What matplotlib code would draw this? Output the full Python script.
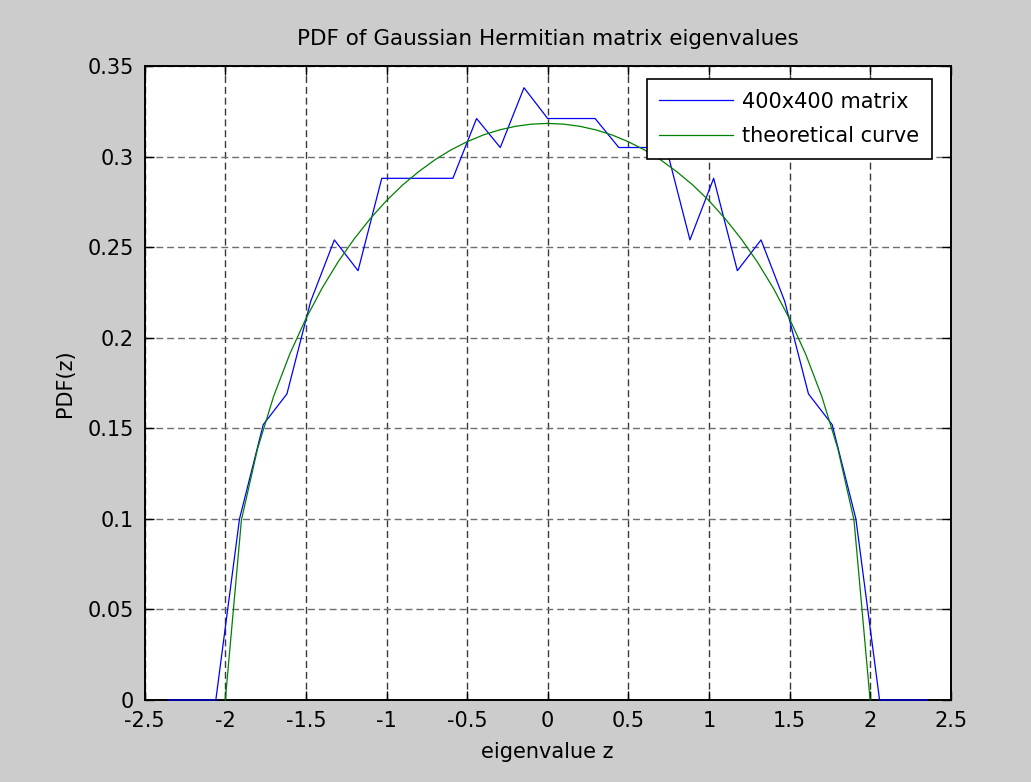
import matplotlib
matplotlib.use("Agg")
import matplotlib.pyplot as plt

# ---- data ----
bin_centers = [-2.3529, -2.2059, -2.0588, -1.9118, -1.7647, -1.6176, -1.4706,
               -1.3235, -1.1765, -1.0294, -0.8824, -0.7353, -0.5882, -0.4412,
               -0.2941, -0.1471, 0.0, 0.1471, 0.2941, 0.4412, 0.5882, 0.7353,
               0.8824, 1.0294, 1.1765, 1.3235, 1.4706, 1.6176, 1.7647, 1.9118,
               2.0588, 2.2059, 2.3529]
pdf_empirical = [0.0, 0.0, 0.0, 0.100, 0.152, 0.169, 0.220, 0.254, 0.237,
                 0.288, 0.288, 0.288, 0.288, 0.321, 0.305, 0.338, 0.321,
                 0.321, 0.321, 0.305, 0.305, 0.305, 0.254, 0.288, 0.237,
                 0.254, 0.220, 0.169, 0.152, 0.100, 0.0, 0.0, 0.0]

theory_x = [-2.0, -1.9, -1.8, -1.7, -1.6, -1.5, -1.4, -1.3, -1.2, -1.1, -1.0,
            -0.9, -0.8, -0.7, -0.6, -0.5, -0.4, -0.3, -0.2, -0.1, 0.0,
            0.1, 0.2, 0.3, 0.4, 0.5, 0.6, 0.7, 0.8, 0.9, 1.0,
            1.1, 1.2, 1.3, 1.4, 1.5, 1.6, 1.7, 1.8, 1.9, 2.0]
theory_y = [0.0, 0.0994, 0.1387, 0.1677, 0.1910, 0.2105, 0.2273, 0.2419,
            0.2546, 0.2658, 0.2757, 0.2843, 0.2917, 0.2982, 0.3037, 0.3082,
            0.3119, 0.3147, 0.3167, 0.3179, 0.3183,
            0.3179, 0.3167, 0.3147, 0.3119, 0.3082, 0.3037, 0.2982, 0.2917,
            0.2843, 0.2757, 0.2658, 0.2546, 0.2419, 0.2273, 0.2105, 0.1910,
            0.1677, 0.1387, 0.0994, 0.0]

x_ticks = [-2.5, -2, -1.5, -1, -0.5, 0, 0.5, 1, 1.5, 2, 2.5]
x_tick_labels = ["-2.5", "-2", "-1.5", "-1", "-0.5", "0", "0.5", "1", "1.5", "2", "2.5"]
y_ticks = [0, 0.05, 0.1, 0.15, 0.2, 0.25, 0.3, 0.35]
y_tick_labels = ["0", "0.05", "0.1", "0.15", "0.2", "0.25", "0.3", "0.35"]
series_labels = ["400x400 matrix", "theoretical curve"]

plt.rcParams["font.family"] = ["DejaVu Sans"]
plt.rcParams["axes.unicode_minus"] = False
FS = 15

W, H = 1031, 782
fig = plt.figure(figsize=(W / 100, H / 100), dpi=100, facecolor="#cccccc")
left, right, bottom, top = 144.7, 950.7, 700.0, 66.0
ax = fig.add_axes([left / W, 1 - bottom / H, (right - left) / W, (bottom - top) / H])
ax.set_facecolor("white")

ax.plot(bin_centers, pdf_empirical, color=(0, 0, 1), lw=0.9,
        label=series_labels[0], zorder=3, clip_on=False)
ax.plot(theory_x, theory_y, color=(0, 0.5, 0), lw=0.9,
        label=series_labels[1], zorder=3, clip_on=False)

ax.set_xlim(-2.5, 2.5)
ax.set_ylim(0, 0.35)
ax.set_xticks(x_ticks)
ax.set_xticklabels(x_tick_labels, fontsize=FS)
ax.set_yticks(y_ticks)
ax.set_yticklabels(y_tick_labels, fontsize=FS)
ax.tick_params(direction="in", length=6.5, width=1.0, top=True, right=True,
               colors="black")
ax.tick_params(axis="x", pad=8)
ax.tick_params(axis="y", pad=8)

for s in ax.spines.values():
    s.set_linewidth(1.4)
    s.set_color("black")
    s.set_zorder(2.5)

ax.grid(axis="x", color="#3a3a3a", lw=1.0, linestyle=(0, (5, 2.8)))
ax.grid(axis="y", color="#6e6e6e", lw=1.0, linestyle=(0, (5, 2.8)))
ax.set_axisbelow(True)

ax.set_title("PDF of Gaussian Hermitian matrix eigenvalues", fontsize=15.5, pad=15)
ax.set_xlabel("eigenvalue z", fontsize=FS, labelpad=8)
ax.set_ylabel("PDF(z)", fontsize=FS, labelpad=9)

leg = ax.legend(loc="upper right", bbox_to_anchor=(932 / W, 1 - 79 / H),
                bbox_transform=fig.transFigure, fontsize=FS, frameon=True,
                fancybox=False, shadow=False, borderpad=0.6, labelspacing=0.72,
                handlelength=3.55, handletextpad=0.45, borderaxespad=0)
leg.get_frame().set_edgecolor("black")
leg.get_frame().set_linewidth(1.2)
leg.get_frame().set_facecolor("white")
leg.get_frame().set_alpha(1)
leg.set_zorder(5)

fig.savefig("out.png", dpi=100, facecolor=fig.get_facecolor())
